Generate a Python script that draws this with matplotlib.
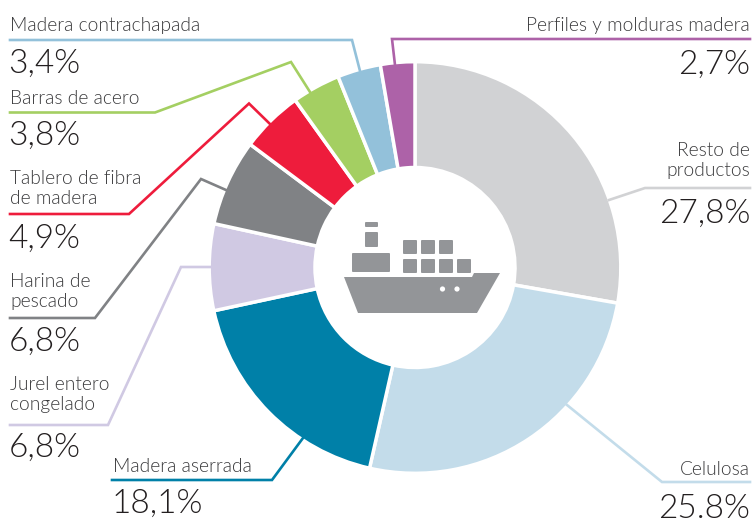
import matplotlib
matplotlib.use("Agg")
import matplotlib.pyplot as plt
from matplotlib import font_manager as fm
from matplotlib.patches import Polygon, FancyBboxPatch, Circle

categories = ["Resto de\nproductos", "Celulosa", "Madera aserrada", "Jurel entero\ncongelado",
              "Harina de\npescado", "Tablero de fibra\nde madera", "Barras de acero",
              "Madera contrachapada", "Perfiles y molduras madera"]
values = [27.8, 25.8, 18.1, 6.8, 6.8, 4.9, 3.8, 3.4, 2.7]
value_labels = ["27,8%", "25.8%", "18,1%", "6,8%", "6,8%", "4,9%", "3,8%", "3,4%", "2,7%"]
colors = ["#d1d2d4", "#c3dcea", "#0080a8", "#d0c9e3", "#808285", "#ee1c3c", "#a4cf62", "#93c1da", "#ad62a8"]

plt.rcParams['font.family'] = ['Lato', 'DejaVu Sans']
light = [f.fname for f in fm.fontManager.ttflist
         if f.name == 'Lato' and f.fname.endswith('Lato-Light.ttf')]
def fp(size):
    if light:
        return fm.FontProperties(fname=light[0], size=size)
    return fm.FontProperties(family='Lato', size=size)

W, H = 754, 518
fig = plt.figure(figsize=(W/100, H/100), dpi=100)
ax = fig.add_axes([0, 0, 1, 1])

cx, cy, R, r = 415, 267.5, 205.8, 100
ax.pie(values, colors=colors, center=(cx, cy), radius=R, startangle=270, counterclock=True,
       normalize=True, frame=False,
       wedgeprops=dict(width=R-r, edgecolor='white', linewidth=2.5))
ax.set_xlim(0, W); ax.set_ylim(H, 0); ax.set_aspect('equal'); ax.axis('off')

leaders = [
    [(750,188),(645,188),(609,200)],
    [(750,482),(662,482),(567,405)],
    [(112,480),(272,480),(303,438)],
    [(10,425),(108,425),(181,267),(211,267)],
    [(10,318),(95,318),(201,179),(226,190)],
    [(10,214),(129,214),(249,103.5),(270,124)],
    [(10,112.5),(155,112.5),(291,62),(310,92)],
    [(10,40),(352,40),(360,71)],
    [(750,39),(392,39),(395,65)],
]
for pts, c in zip(leaders, colors):
    ax.plot([p[0] for p in pts], [p[1] for p in pts], color=c, lw=1.9, solid_joinstyle='miter', zorder=1)

# (x, last-line label baseline, value baseline, ha)
text_pos = [
    (750,176,223,'right'), (750,475,518,'right'), (113,472,513,'left'), (10,410,457,'left'),
    (10,307,351,'left'), (10,204,248,'left'), (10,104,145,'left'), (10,31,73,'left'), (750,31,74,'right'),
]
for cat, val, (x, ly, vy, ha) in zip(categories, value_labels, text_pos):
    ax.text(x, ly, cat, ha=ha, va='baseline', fontproperties=fp(13.75), color='#3a3a3c', linespacing=1.22)
    vx = x - 1.5 if ha == 'left' else x
    ax.text(vx, vy, val, ha=ha, va='baseline', fontproperties=fp(24), color='#231f20')

# ship icon
g = '#939598'
ax.add_patch(Polygon([(344,277),(472,277),(474,273),(500,273),(477,313),(358,313)],
                     closed=True, fc=g, ec='none', zorder=3))
for cxx in (442.5, 457):
    ax.add_patch(Circle((cxx, 289), 2.6, fc='white', ec='none', zorder=4))
boxes = [(403,240,14,14),(421,240,14,14),(439,240,14,14),
         (403,259,14,14),(421,259,14,14),(439,259,14,14),(457,259,14,14),
         (352,253,38,19),(365,232,13,15),(365,222,13,5)]
for x, y, w, h in boxes:
    ax.add_patch(FancyBboxPatch((x+1, y+1), w-2, h-2, boxstyle="round,pad=1,rounding_size=1", fc=g, ec='none', zorder=3))

fig.savefig("out.png", dpi=100)
